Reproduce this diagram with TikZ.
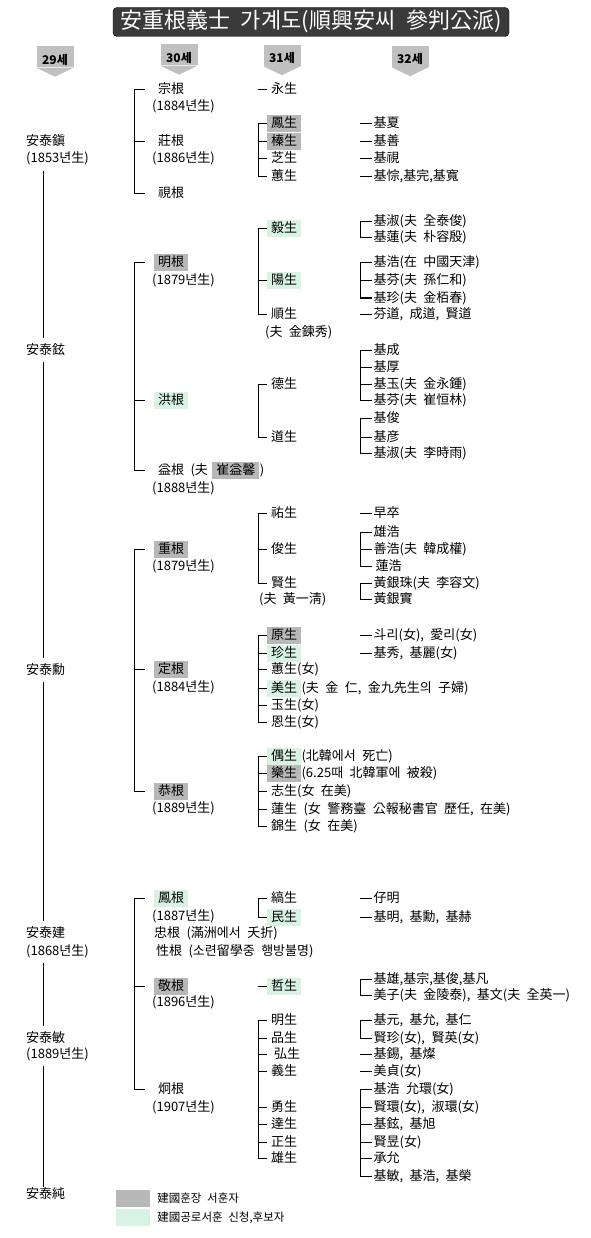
\documentclass[tikz,border=0pt]{standalone}
\usepackage{fontspec}
\setmainfont{Noto Sans CJK KR}[WordSpace=2.2]
\usepackage{tikz}
\usetikzlibrary{positioning}
\definecolor{medalgray}{HTML}{B8B8B8}
\definecolor{candgreen}{HTML}{D8F3E3}
\definecolor{titledark}{HTML}{3A3A3A}
\definecolor{gengray}{HTML}{C0C0C0}
\newcommand\famfont{\fontsize{13}{15}\selectfont}

\begin{document}
\begin{tikzpicture}[
  x=1pt,y=-1pt,
  every node/.style={font=\famfont,text height=10.5pt,text depth=2.5pt},
  title/.style={fill=titledark,draw=black,rounded corners=4pt,minimum width=396pt,minimum height=29pt,inner sep=0pt,text=white,font=\fontsize{22}{22}\selectfont,text height=16pt,text depth=3pt},
  gen/.style={fill=gengray,minimum width=37pt,minimum height=21pt,inner sep=0pt,font=\bfseries\fontsize{12}{12}\selectfont,text height=15pt,text depth=0pt},
  elder/.style={anchor=west,inner xsep=0pt,inner ysep=5pt},
  son/.style={anchor=west,inner xsep=4pt,inner ysep=2pt},
  born/.style={anchor=west,inner sep=0pt},
  grand/.style={anchor=west,inner xsep=4pt,inner ysep=2pt},
  great/.style={anchor=west,inner xsep=1.5pt,inner ysep=2pt},
  note/.style={anchor=west,inner xsep=0pt,inner ysep=2pt},
  medal/.style={fill=medalgray},
  cand/.style={fill=candgreen},
  key/.style={minimum width=34pt,minimum height=17pt,inner sep=0pt},
  link/.style={draw=black,line width=1pt},
  link30/.style={link,shorten >=9pt}
]
\useasboundingbox (0,0) rectangle (590,1238);

% title and generations
\node[title] (ttl) at (311,22) {安重根義士 가계도(順興安씨\enspace 參判公派)};
\node[gen] (g29) at (55,57) {29세};
\node[gen] (g30) at (179,55) {30세};
\node[gen] (g31) at (282,55.5) {31세};
\node[gen] (g32) at (410,56.5) {32세};
\fill[gengray] (g29.south west) -- (g29.south east) -- ([yshift=-9pt]g29.south) -- cycle;
\fill[gengray] (g30.south west) -- (g30.south east) -- ([yshift=-9pt]g30.south) -- cycle;
\fill[gengray] (g31.south west) -- (g31.south east) -- ([yshift=-9pt]g31.south) -- cycle;
\fill[gengray] (g32.south west) -- (g32.south east) -- ([yshift=-9pt]g32.south) -- cycle;

\coordinate (s29) at (43,0);
\coordinate (s30) at (134,0);
\coordinate (s31) at (258,0);
\coordinate (s32) at (360,0);

% 29th generation
\node[elder] (tjin) at (26,142) {安泰鎭};
\node[elder] (tjiny) at (26,159) {(1853년生)};
\node[elder] (thyun) at (26,350) {安泰鉉};
\node[elder] (thun) at (26,670) {安泰勳};
\node[elder] (tgeon) at (26,933) {安泰建};
\node[elder] (tgeony) at (26,951) {(1868년生)};
\node[elder] (tmin) at (26,1038) {安泰敏};
\node[elder] (tminy) at (26,1054) {(1889년生)};
\node[elder,inner ysep=0pt] (tsun) at (26,1194) {安泰純};
\draw[link] (s29 |- tjiny.south) -- (s29 |- thyun.north);
\draw[link] (s29 |- thyun.south) -- (s29 |- thun.north);
\draw[link] (s29 |- thun.south) -- (s29 |- tgeon.north);
\draw[link] (s29 |- tgeony.south) -- (s29 |- tmin.north);
\draw[link] (s29 |- tminy.south) -- (s29 |- tsun.north);

% 30th generation
\node[son] (jong) at (154,90) {宗根};
\node[born] (jongy) at (152,107) {(1884년生)};
\node[son] (jang) at (154,142) {莊根};
\node[born] (jangy) at (152,159) {(1886년生)};
\node[son] (si) at (154,194) {視根};
\node[son,medal] (myeong) at (154,263) {明根};
\node[born] (myeongy) at (152,281) {(1879년生)};
\node[son,cand] (hong) at (154,400) {洪根};
\node[son] (ik) at (154,470) {益根 (夫};
\node[son,medal,right=0pt of ik] (ikwife) {崔益馨};
\node[note,right=0pt of ikwife] (ikend) {)};
\node[born] (iky) at (152,488) {(1888년生)};
\node[son,medal] (jung) at (154,549) {重根};
\node[born] (jungy) at (152,566) {(1879년生)};
\node[son,medal] (jeong) at (154,669) {定根};
\node[born] (jeongy) at (152,687) {(1884년生)};
\node[son,medal] (gong) at (154,791) {恭根};
\node[born] (gongy) at (152,808) {(1889년生)};
\node[son,cand] (bong) at (154,898) {鳳根};
\node[born] (bongy) at (152,916) {(1887년生)};
\node[born] (chung) at (154,933) {忠根 (滿洲에서 夭折)};
\node[born] (seong) at (156,951) {性根 (소련留學중 행방불명)};
\node[son,medal] (gyeong) at (154,986) {敬根};
\node[born] (gyeongy) at (152,1002) {(1896년生)};
\node[son] (hyeong) at (154,1089) {炯根};
\node[born] (hyeongy) at (152,1107) {(1907년生)};
\foreach \c in {jong,jang,si} \draw[link30] (s30 |- jong.west) |- (\c.west);
\foreach \c in {myeong,hong,ik} \draw[link30] (s30 |- myeong.west) |- (\c.west);
\foreach \c in {jung,jeong,gong} \draw[link30] (s30 |- jung.west) |- (\c.west);
\foreach \c in {bong,gyeong,hyeong} \draw[link30] (s30 |- bong.west) |- (\c.west);

% 31st generation
\node[grand] (yeong) at (267,90) {永生};
\node[grand,medal] (bongs) at (267,124) {鳳生};
\node[grand,medal] (jins) at (267,142) {榛生};
\node[grand] (jis) at (267,159) {芝生};
\node[grand] (hyes) at (267,177) {蕙生};
\node[grand,cand] (uis) at (267,229) {毅生};
\node[grand,cand] (yangs) at (267,281) {陽生};
\node[grand] (suns) at (267,314) {順生};
\node[born] (sunsh) at (265,332) {(夫 金鍊秀)};
\node[grand] (deoks) at (267,384) {德生};
\node[grand] (dos) at (267,437) {道生};
\node[grand] (us) at (267,513) {祐生};
\node[grand] (juns) at (267,549) {俊生};
\node[grand] (hyeons) at (267,583) {賢生};
\node[born] (hyeonsh) at (259,599) {(夫 黃一淸)};
\node[grand,medal] (wons) at (267,635) {原生};
\node[grand,cand] (jins2) at (267,653) {珍生};
\node[grand] (hyes2) at (267,669) {蕙生(女)};
\node[grand,cand] (mis) at (267,688) {美生};
\node[note,right=0pt of mis] (misnote) {(夫 金 仁, 金九先生의 子婦)};
\node[grand] (oks) at (267,705) {玉生(女)};
\node[grand] (euns) at (267,722) {恩生(女)};
\node[grand,cand] (ous) at (267,756) {偶生};
\node[note,right=0pt of ous] (ousnote) {(北韓에서 死亡)};
\node[grand,medal] (aks) at (267,773) {樂生};
\node[note,right=0pt of aks] (aksnote) {(6.25때 北韓軍에 被殺)};
\node[grand] (jis2) at (267,791) {志生(女 在美)};
\node[grand] (yeons) at (267,809) {蓮生 (女 警務臺 公報秘書官 歷任, 在美)};
\node[grand] (geums) at (267,826) {錦生 (女 在美)};
\node[grand] (hos) at (267,898) {縞生};
\node[grand,cand] (mins) at (267,917) {民生};
\node[grand,cand] (cheols) at (267,986) {哲生};
\node[grand] (myeongs) at (267,1020) {明生};
\node[grand] (pums) at (267,1038) {品生};
\node[grand] (hongs) at (267,1054) {\hspace{3pt}弘生};
\node[grand] (euis) at (267,1071) {義生};
\node[grand] (yongs) at (267,1107) {勇生};
\node[grand] (dals) at (267,1124) {達生};
\node[grand] (jeongs) at (267,1142) {正生};
\node[grand] (ungs) at (267,1158) {雄生};
\foreach \c in {yeong,cheols} \draw[link] (s31 |- \c.west) -- (\c.west);
\foreach \c in {bongs,jins,jis,hyes} \draw[link] (s31 |- bongs.west) |- (\c.west);
\foreach \c in {uis,yangs,suns} \draw[link] (s31 |- uis.west) |- (\c.west);
\foreach \c in {deoks,dos} \draw[link] (s31 |- deoks.west) |- (\c.west);
\foreach \c in {us,juns,hyeons} \draw[link] (s31 |- us.west) |- (\c.west);
\foreach \c in {wons,jins2,hyes2,mis,oks,euns} \draw[link] (s31 |- wons.west) |- (\c.west);
\foreach \c in {ous,aks,jis2,yeons,geums} \draw[link] (s31 |- ous.west) |- (\c.west);
\foreach \c in {hos,mins} \draw[link] (s31 |- hos.west) |- (\c.west);
\foreach \c in {myeongs,pums,hongs,euis,yongs,dals,jeongs,ungs} \draw[link] (s31 |- myeongs.west) |- (\c.west);

% 32nd generation
\node[great] (kiha) at (372,124) {基夏};
\node[great] (kiseon) at (372,142) {基善};
\node[great] (kisi) at (372,159) {基視};
\node[great] (kijong) at (372,177) {基悰,基完,基寬};
\node[great] (kisuk) at (372,222) {基淑(夫 全泰俊)};
\node[great] (kiryeon) at (372,238) {基蓮(夫 朴容殷)};
\node[great] (kiho) at (372,263) {基浩(在 中國天津)};
\node[great] (kibun) at (372,281) {基芬(夫 孫仁和)};
\node[great] (kijin) at (372,298) {基珍(夫 金栢春)};
\node[great] (bundo) at (372,314) {芬道, 成道, 賢道};
\node[great] (kiseong) at (372,350) {基成};
\node[great] (kihu) at (372,367) {基厚};
\node[great] (kiok) at (372,384) {基玉(夫 金永鍾)};
\node[great] (kibun2) at (372,400) {基芬(夫 崔恒林)};
\node[great] (kijun) at (372,418) {基俊};
\node[great] (kieon) at (372,437) {基彦};
\node[great] (kisuk2) at (372,453) {基淑(夫 李時雨)};
\node[great] (jolsu) at (372,513) {早卒};
\node[great] (ungho) at (372,532) {雄浩};
\node[great] (seonho) at (372,549) {善浩(夫 韓成權)};
\node[great] (ryeonho) at (372,566) {\hspace{2pt}蓮浩};
\node[great] (eunju) at (372,583) {黃銀珠(夫 李容文)};
\node[great] (eunsil) at (372,599) {黃銀實};
\node[great] (duri) at (372,635) {斗리(女), 愛리(女)};
\node[great] (kisu) at (372,653) {基秀, 基麗(女)};
\node[great] (jamyeong) at (372,898) {仔明};
\node[great] (kimyeong) at (372,917) {基明, 基勳, 基赫};
\node[great] (kiung) at (372,979) {基雄,基宗,基俊,基凡};
\node[great] (mija) at (372,995) {美子(夫 金陵泰), 基文(夫 全英一)};
\node[great] (kiwon) at (372,1020) {基元, 基允, 基仁};
\node[great] (hyeonjin) at (372,1038) {賢珍(女), 賢英(女)};
\node[great] (kiseok) at (372,1054) {基錫, 基燦};
\node[great] (mijeong) at (372,1071) {美貞(女)};
\node[great] (kiho2) at (372,1089) {基浩 允環(女)};
\node[great] (hyeonhwan) at (372,1107) {賢環(女), 淑環(女)};
\node[great] (kihyeon) at (372,1124) {基鉉, 基旭};
\node[great] (hyeonuk) at (372,1142) {賢昱(女)};
\node[great] (seungyun) at (372,1158) {承允};
\node[great] (kimin) at (372,1176) {基敏, 基浩, 基榮};
\foreach \c in {kiha,kiseon,kisi,kijong,bundo,jolsu,duri,kisu,jamyeong,kimyeong,kiseok,mijeong} \draw[link] (s32 |- \c.west) -- (\c.west);
\foreach \c in {kisuk,kiryeon} \draw[link] (s32 |- kisuk.west) |- (\c.west);
\foreach \c in {kiho,kibun,kijin} \draw[link] (s32 |- kiho.west) |- (\c.west);
\foreach \c in {kiseong,kihu,kiok,kibun2} \draw[link] (s32 |- kiseong.west) |- (\c.west);
\foreach \c in {kijun,kieon,kisuk2} \draw[link] (s32 |- kijun.west) |- (\c.west);
\foreach \c in {ungho,seonho,ryeonho} \draw[link] (s32 |- ungho.west) |- (\c.west);
\foreach \c in {eunju,eunsil} \draw[link] (s32 |- eunju.west) |- (\c.west);
\foreach \c in {kiung,mija} \draw[link] (s32 |- kiung.west) |- (\c.west);
\foreach \c in {kiwon,hyeonjin} \draw[link] (s32 |- kiwon.west) |- (\c.west);
\foreach \c in {kiho2,hyeonhwan,kihyeon,hyeonuk,seungyun,kimin} \draw[link] (s32 |- kiho2.west) |- (\c.west);

% legend
\node[key,medal] (keymedal) at (133,1198.5) {};
\node[note,right=7pt of keymedal,font=\fontsize{11.5}{14}\selectfont] (keymedaltxt) {建國훈장 서훈자};
\node[key,cand] (keycand) at (133,1217.5) {};
\node[note,right=7pt of keycand,font=\fontsize{11.5}{14}\selectfont] (keycandtxt) {建國공로서훈 신청,후보자};
\end{tikzpicture}
\end{document}
